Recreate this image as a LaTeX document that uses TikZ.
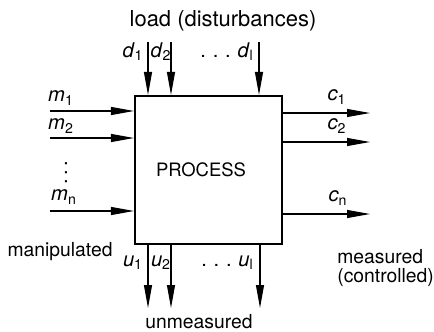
\documentclass[tikz,border=0pt]{standalone}
\usepackage{fontspec}
\setmainfont{TeX Gyre Heros}
\usetikzlibrary{arrows.meta, positioning}
\tikzset{
	procbox/.style={rectangle, draw, line width=1.2pt, minimum width=2.94cm, minimum height=2.96cm, inner sep=0pt, font=\fontsize{10.5}{12}\selectfont},
	lbl/.style={inner sep=0pt, align=center, font=\fontsize{11}{11}\selectfont},
	sig/.style={inner sep=0pt, font=\fontsize{11.5}{13}\selectfont},
	arrow/.style={-{Triangle[length=0.46cm, width=0.16cm]}, line width=0.6pt},
}
\newcommand{\sgn}[2]{\textit{#1}\textsubscript{#2}}

\begin{document}
\begin{tikzpicture}[x=0.02cm, y=-0.02cm]
	\useasboundingbox (0,0) rectangle (434,332);
	% process block
	\node[procbox] (proc) at (208.5,170) {\hspace*{-0.3cm}PROCESS};
	% free ends of the signals
	\coordinate (d1) at (148,42);
	\coordinate (d2) at (171,42);
	\coordinate (dl) at (259,42);
	\coordinate (m1) at (50,111);
	\coordinate (m2) at (50,138);
	\coordinate (mn) at (50,211);
	\coordinate (c1) at (370,113);
	\coordinate (c2) at (370,142);
	\coordinate (cn) at (370,214);
	\coordinate (u1) at (148,308);
	\coordinate (u2) at (171,308);
	\coordinate (ul) at (260,308);
	% arrows
	\draw[arrow] (d1) -- (d1 |- proc.north);
	\draw[arrow] (d2) -- (d2 |- proc.north);
	\draw[arrow] (dl) -- (dl |- proc.north);
	\draw[arrow] (m1) -- (m1 -| proc.west);
	\draw[arrow] (m2) -- (m2 -| proc.west);
	\draw[arrow] (mn) -- (mn -| proc.west);
	\draw[arrow] (c1 -| proc.east) -- (c1);
	\draw[arrow] (c2 -| proc.east) -- (c2);
	\draw[arrow] (cn -| proc.east) -- (cn);
	\draw[arrow] (u1 |- proc.south) -- (u1);
	\draw[arrow] (u2 |- proc.south) -- (u2);
	\draw[arrow] (ul |- proc.south) -- (ul);
	% signal labels
	\node[sig] (d1lbl) at (133,52) {\sgn{d}{1}};
	\node[sig] (d2lbl) at (161,52) {\sgn{d}{2}};
	\node[sig, anchor=east] (dllbl) at (254,52) {.\,\,.\,\,.\,\,\sgn{d}{l}};
	\node[sig] (m1lbl) at (61,98) {\sgn{m}{1}};
	\node[sig] (m2lbl) at (61,126) {\sgn{m}{2}};
	\node[sig, rotate=90] (mdots) at (66,173) {.\,.\,.};
	\node[sig] (mnlbl) at (64,197) {\sgn{m}{n}};
	\node[sig] (c1lbl) at (337,97) {\sgn{c}{1}};
	\node[sig] (c2lbl) at (337,126) {\sgn{c}{2}};
	\node[sig] (cnlbl) at (338,198) {\sgn{c}{n}};
	\node[sig] (u1lbl) at (133,263) {\sgn{u}{1}};
	\node[sig] (u2lbl) at (161,263) {\sgn{u}{2}};
	\node[sig, anchor=east] (ullbl) at (254,263) {.\,\,.\,\,.\,\,\sgn{u}{l}};
	% group labels
	\node[lbl, font=\fontsize{12.5}{14}\selectfont] (load) at (223,21) {load (disturbances)};
	\node[lbl] (manip) at (60,252) {manipulated};
	\node[lbl, align=left, anchor=west] (meas) at (337,268) {measured\\(controlled)};
	\node[lbl] (unmeas) at (199,322) {unmeasured};
\end{tikzpicture}
\end{document}
